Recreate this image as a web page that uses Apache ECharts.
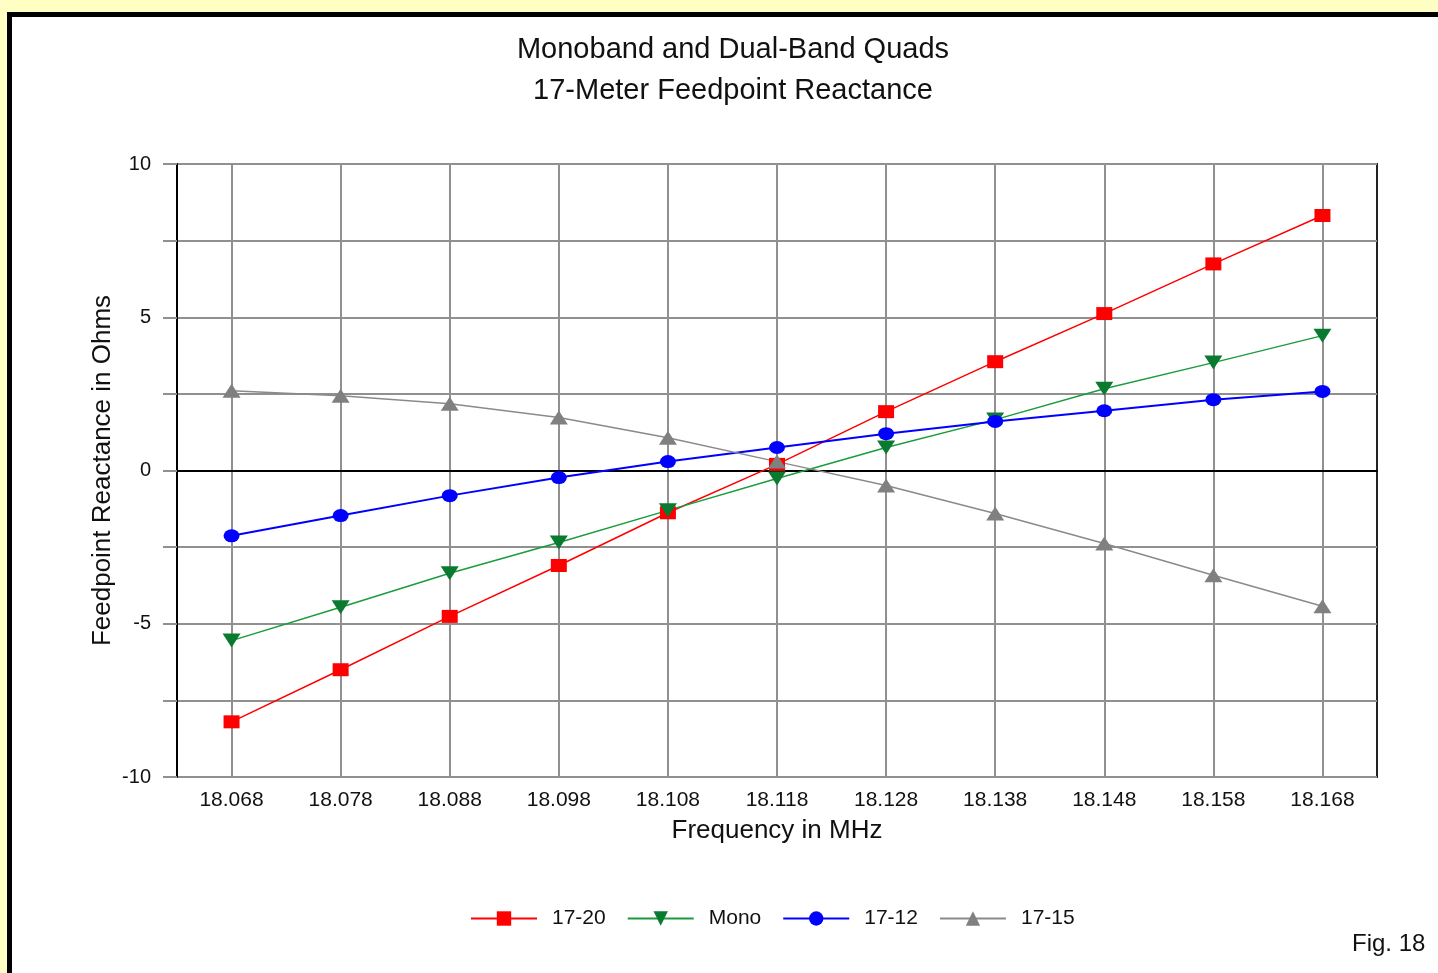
<!DOCTYPE html>
<html>
<head>
<meta charset="utf-8">
<script src="https://cdn.jsdelivr.net/npm/echarts@6/dist/echarts.min.js"></script>
<style>
html,body{margin:0;padding:0;background:#ffffc4;}
#c{width:1438px;height:973px;}
</style>
</head>
<body>
<div id="c"></div>
<script>
const frequencies = [18.068, 18.078, 18.088, 18.098, 18.108, 18.118, 18.128, 18.138, 18.148, 18.158, 18.168];
const s1720 = [-8.2, -6.5, -4.76, -3.1, -1.38, 0.2, 1.92, 3.55, 5.12, 6.74, 8.32];
const sMono = [-5.55, -4.46, -3.35, -2.35, -1.3, -0.26, 0.75, 1.66, 2.67, 3.52, 4.4];
const s1712 = [-2.13, -1.47, -0.82, -0.23, 0.29, 0.75, 1.2, 1.6, 1.95, 2.31, 2.58];
const s1715 = [2.6, 2.44, 2.18, 1.73, 1.07, 0.29, -0.49, -1.4, -2.38, -3.42, -4.43];
const yTicks = [-10, -5, 0, 5, 10];
const titleLines = ['Monoband and Dual-Band Quads', '17-Meter Feedpoint Reactance'];

const FONT = 'Liberation Sans';
const pair = arr => frequencies.map((f, i) => [f, arr[i]]);

const chart = echarts.init(document.getElementById('c'), null, {renderer: 'canvas'});

function mkSeries(name, data, symbol, size, color, lineColor, width, extra) {
  return Object.assign({
    name: name,
    type: 'line',
    data: pair(data),
    symbol: symbol,
    symbolSize: size,
    showSymbol: true,
    animation: false,
    itemStyle: {color: color},
    lineStyle: {color: lineColor, width: width},
    emphasis: {disabled: true},
    z: 5
  }, extra || {});
}

chart.setOption({
  backgroundColor: 'transparent',
  animation: false,
  textStyle: {fontFamily: FONT},
  graphic: [
    {type: 'rect', z: -10, silent: true,
     shape: {x: 9.5, y: 14.5, width: 1450, height: 980},
     style: {fill: '#ffffff', stroke: '#000000', lineWidth: 5}},
    {type: 'text', left: 1352, top: 932, silent: true,
     style: {text: 'Fig. 18', fill: '#111', font: '24px "Liberation Sans"'}}
  ],
  title: {
    text: titleLines.join('\n'),
    left: 728, top: 24,
    textAlign: 'center',
    textStyle: {fontFamily: FONT, fontSize: 29, fontWeight: 'normal', color: '#111', lineHeight: 41}
  },
  legend: {
    left: 465, top: 903,
    itemWidth: 66, itemHeight: 18, itemGap: 21,
    textStyle: {fontFamily: FONT, fontSize: 21, color: '#111', padding: [0, 0, 0, 10]},
    data: ['17-20', 'Mono', '17-12', '17-15']
  },
  grid: {left: 177, top: 164, width: 1200, height: 613, show: true, borderColor: '#222', borderWidth: 2, backgroundColor: 'transparent'},
  xAxis: {
    type: 'value',
    min: 18.063, max: 18.173,
    name: 'Frequency in MHz',
    nameLocation: 'middle', nameGap: 41, nameMoveOverlap: false,
    nameTextStyle: {fontFamily: FONT, fontSize: 26, color: '#111'},
    axisLine: {show: true, lineStyle: {color: '#000', width: 2}},
    axisTick: {show: true, customValues: frequencies, length: 10, lineStyle: {color: '#909090', width: 2}},
    axisLabel: {customValues: frequencies, margin: 13, fontFamily: FONT, fontSize: 21, color: '#111',
      formatter: v => v.toFixed(3)},
    splitLine: {show: true, lineStyle: {color: '#909090', width: 2}}
  },
  yAxis: {
    type: 'value',
    min: -10, max: 10, interval: 2.5,
    name: 'Feedpoint Reactance in Ohms',
    nameLocation: 'middle', nameGap: 61, nameRotate: 90, nameMoveOverlap: false,
    nameTextStyle: {fontFamily: FONT, fontSize: 26, color: '#111'},
    axisLine: {show: true, lineStyle: {color: '#000', width: 2}},
    axisTick: {show: true, length: 14, lineStyle: {color: '#909090', width: 2}},
    axisLabel: {margin: 26, fontFamily: FONT, fontSize: 20, color: '#111',
      formatter: v => (yTicks.indexOf(v) >= 0 ? String(v) : '')},
    splitLine: {show: true, lineStyle: {color: '#909090', width: 2}}
  },
  series: [
    mkSeries('17-20', s1720, 'rect', [16, 13], '#ff0000', '#ff0000', 1.5, {
      markLine: {silent: true, symbol: 'none', label: {show: false},
        lineStyle: {color: '#000', width: 2, type: 'solid'},
        data: [{yAxis: 0}], z: 3, animation: false}
    }),
    mkSeries('Mono', sMono, 'triangle', [18, 14], '#0a7a30', '#1a9c3c', 1.5, {symbolRotate: 180}),
    mkSeries('17-12', s1712, 'circle', [16, 13], '#0000ff', '#0000ff', 2),
    mkSeries('17-15', s1715, 'triangle', [18, 14], '#808080', '#8a8a8a', 1.5)
  ]
});
</script>
</body>
</html>
